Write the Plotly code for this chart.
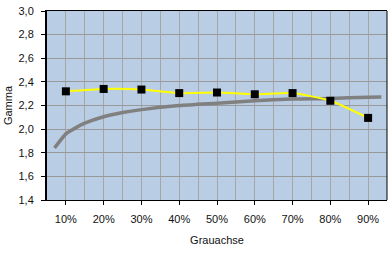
import plotly.graph_objects as go

# Data
categories = [10, 20, 30, 40, 50, 60, 70, 80, 90]
tick_labels = ["10%", "20%", "30%", "40%", "50%", "60%", "70%", "80%", "90%"]
gamma_measured = [2.32, 2.34, 2.335, 2.305, 2.31, 2.295, 2.305, 2.24, 2.095]
ref_x = [7, 10, 12, 15, 20, 25, 30, 40, 50, 60, 70, 80, 90, 93.5]
ref_gamma = [1.84, 1.96, 2.0, 2.05, 2.105, 2.14, 2.165, 2.2, 2.22, 2.24, 2.255, 2.26, 2.27, 2.272]

font = "Liberation Sans, Arial, sans-serif"

fig = go.Figure()
fig.add_trace(go.Scatter(x=ref_x, y=ref_gamma, mode="lines",
                         line=dict(color="#808080", width=3.5, shape="spline", smoothing=0.6),
                         hoverinfo="skip", showlegend=False))
fig.add_trace(go.Scatter(x=categories, y=gamma_measured, mode="lines+markers",
                         line=dict(color="#ffff00", width=2, shape="spline", smoothing=0.5),
                         marker=dict(symbol="square", size=8, color="#000000"),
                         showlegend=False))

fig.update_layout(
    width=392, height=257,
    margin=dict(l=47, r=5, t=9, b=57),
    paper_bgcolor="white",
    plot_bgcolor="#b9cde5",
    separators=",.",
    font=dict(family=font, size=11, color="#111111"),
    xaxis=dict(
        range=[5, 95], tickvals=categories, ticktext=tick_labels,
        showgrid=True, gridcolor="#a6a6a6", gridwidth=1,
        minor=dict(dtick=5, tick0=5, showgrid=True, gridcolor="#a6a6a6", gridwidth=1, ticks=""),
        ticks="outside", ticklen=4, tickcolor="black",
        ticklabelstandoff=5,
        showline=True, linecolor="black", linewidth=1, mirror=True,
        zeroline=False,
        title=dict(text="Grauachse", standoff=12, font=dict(size=11)),
    ),
    yaxis=dict(
        range=[1.4, 3.0], dtick=0.2, tick0=1.4, tickformat=".1f",
        showgrid=True, gridcolor="#999999", gridwidth=1,
        ticks="outside", ticklen=4, tickcolor="black",
        ticklabelstandoff=5,
        showline=True, linecolor="black", linewidth=2,
        zeroline=False,
        title=dict(text="Gamma", standoff=4, font=dict(size=11)),
    ),
    shapes=[dict(type="line", xref="paper", yref="paper", x0=1, x1=1, y0=0, y1=1,
                 line=dict(color="black", width=1))],
)

fig.write_html("out.html")
